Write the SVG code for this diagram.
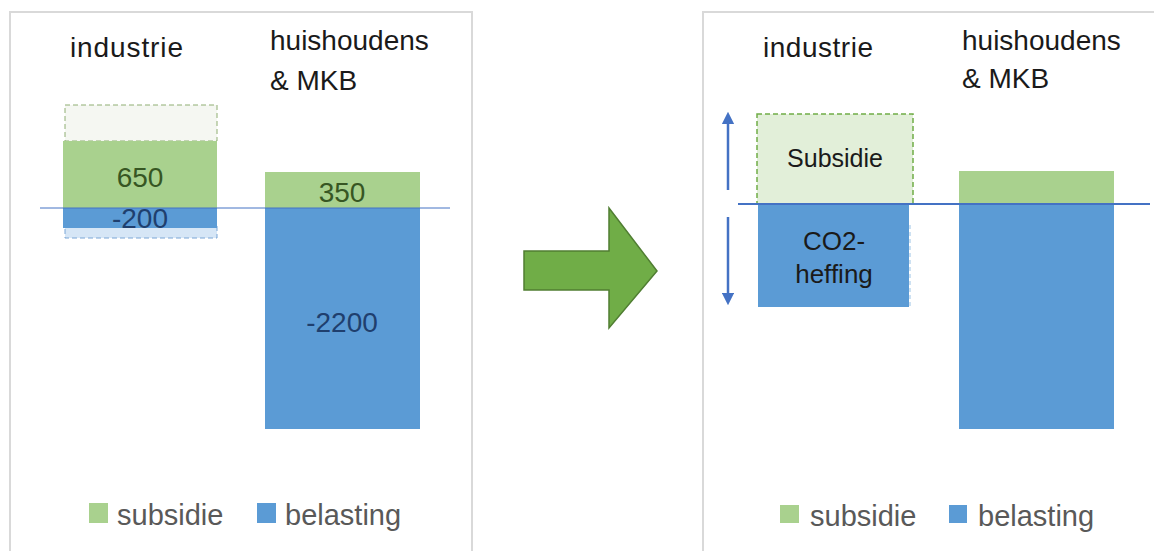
<svg xmlns="http://www.w3.org/2000/svg" width="1154" height="551" viewBox="0 0 1154 551">
<style>
.frame{fill:#ffffff;stroke:#d9d9d9;stroke-width:2}
.t{font-family:"Liberation Sans",Arial,sans-serif;fill:#1a1a1a}
.title{font-size:28px}
.val{font-size:28px;text-anchor:middle}
.leg{font-size:29px;fill:#595959}
.green{fill:#a9d18e}
.blue{fill:#5b9bd5}
.dg{fill:#375623}
.db{fill:#1f3f6e}
</style>
<defs>
<marker id="ah" viewBox="0 0 10 10" refX="5" refY="5" markerWidth="5" markerHeight="5" orient="auto-start-reverse">
<path d="M0,0 L10,5 L0,10 z" fill="#4472c4"/>
</marker>
</defs>
<rect width="1154" height="551" fill="#ffffff"/>
<g id="left-panel">
<rect class="frame" x="10" y="12" width="462" height="560"/>
<text class="t title" x="70" y="57" textLength="113">industrie</text>
<text class="t title" x="270" y="50">huishoudens</text>
<text class="t title" x="270" y="90">&amp; MKB</text>
<g id="left-industrie-bar">
<rect x="65" y="105" width="152" height="36" fill="#f5f7f2" stroke="#8fae72" stroke-width="1" stroke-dasharray="5,3"/>
<rect class="green" x="63" y="141" width="154" height="67"/>
<rect x="65" y="226" width="152" height="12" fill="#d6e6f6" stroke="#7aa6d6" stroke-width="1" stroke-dasharray="5,3"/>
<rect class="blue" x="63" y="208" width="154" height="20"/>
<text class="t val dg" x="140" y="187">650</text>
<text class="t val db" x="140" y="228">-200</text>
</g>
<g id="left-huishoudens-bar">
<rect class="green" x="265" y="172" width="155" height="36"/>
<rect class="blue" x="265" y="208" width="155" height="221"/>
<text class="t val dg" x="342" y="202">350</text>
<text class="t val db" x="342" y="332">-2200</text>
</g>
<g id="left-legend">
<rect class="green" x="89" y="503" width="19" height="20"/>
<text class="t leg" x="117" y="525">subsidie</text>
<rect class="blue" x="257" y="503" width="19" height="20"/>
<text class="t leg" x="285" y="525">belasting</text>
</g>
</g>
<g id="big-arrow">
<path d="M524,251 L609,251 L609,208 L657,271 L609,328 L609,290 L524,290 Z" fill="#70ad47" stroke="#507e32" stroke-width="1.5"/>
</g>
<g id="right-panel">
<rect class="frame" x="703" y="12" width="460" height="560"/>
<text class="t title" x="763" y="57" textLength="110">industrie</text>
<text class="t title" x="962" y="50">huishoudens</text>
<text class="t title" x="962" y="88">&amp; MKB</text>
<g id="right-industrie-bar">
<rect x="757" y="114" width="156" height="90" fill="#e2efd9" stroke="#70ad47" stroke-width="1.5" stroke-dasharray="5,3"/>
<rect class="blue" x="758" y="204" width="151" height="103"/>
<line x1="910" y1="225" x2="910" y2="307" stroke="#bdd7ee" stroke-width="1.5" stroke-dasharray="4,3"/>
<text class="t val" x="835" y="167" style="font-size:25px">Subsidie</text>
<text class="t val" x="834" y="250" style="font-size:26px">CO2-</text>
<text class="t val" x="834" y="283" style="font-size:26px">heffing</text>
</g>
<g id="right-huishoudens-bar">
<rect class="green" x="959" y="171" width="155" height="33"/>
<rect class="blue" x="959" y="204" width="155" height="225"/>
</g>
<g id="right-legend">
<rect class="green" x="780" y="505" width="19" height="18"/>
<text class="t leg" x="810" y="526">subsidie</text>
<rect class="blue" x="949" y="505" width="18" height="18"/>
<text class="t leg" x="978" y="526">belasting</text>
</g>
</g>
<g id="connectors">
<line x1="40" y1="208" x2="450" y2="208" stroke="#4472c4" stroke-width="1"/>
<line x1="738" y1="204" x2="1150" y2="204" stroke="#4472c4" stroke-width="2"/>
<line x1="728" y1="190" x2="728" y2="118" stroke="#4472c4" stroke-width="2.5" marker-end="url(#ah)"/>
<line x1="728" y1="217" x2="728" y2="299" stroke="#4472c4" stroke-width="2.5" marker-end="url(#ah)"/>
</g>
</svg>
